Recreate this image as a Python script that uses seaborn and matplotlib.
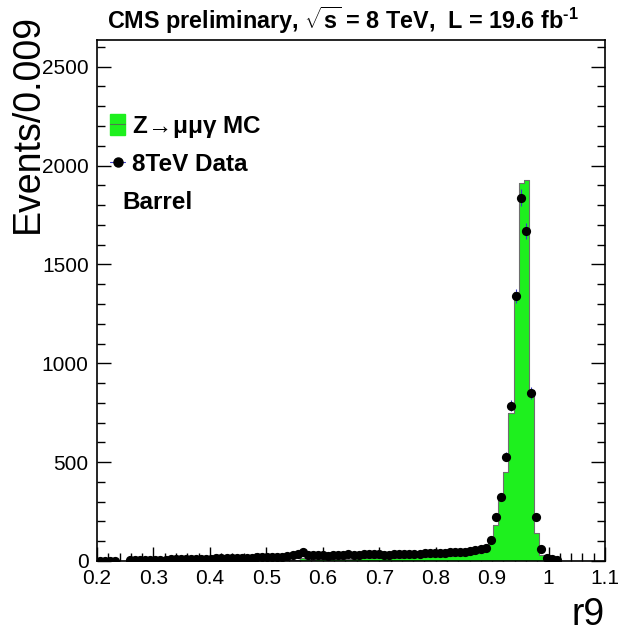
import numpy as np
import pandas as pd
import matplotlib.pyplot as plt
import seaborn as sns
from matplotlib.patches import Patch
from matplotlib.lines import Line2D
from matplotlib.ticker import FixedLocator, MultipleLocator

sns.set_style("ticks")
plt.rcParams['font.family'] = ['Liberation Sans', 'DejaVu Sans']
plt.rcParams['mathtext.fontset'] = 'custom'
plt.rcParams['mathtext.rm'] = 'Liberation Sans:bold'
plt.rcParams['mathtext.it'] = 'Liberation Sans:bold'
plt.rcParams['mathtext.bf'] = 'Liberation Sans:bold'
for key in ['text.color', 'axes.labelcolor', 'xtick.color', 'ytick.color']:
    plt.rcParams[key] = 'black'

# ── binning: 100 bins of 0.009 from 0.2 to 1.1 ──────────────────────────────
BIN_LO, BIN_W, N_BINS = 0.2, 0.009, 100

# ── 8 TeV data (events per bin) ──────────────────────────────────────────────
data_counts = [
    1, 2, 2, 2, 0, 0, 4, 4, 5, 5, 6,
    6, 7, 7, 8, 8, 9, 10, 10, 11, 11, 12,
    12, 13, 13, 14, 15, 15, 16, 17, 17, 18, 19,
    20, 20, 21, 22, 24, 30, 34, 48, 32, 29, 30,
    28, 27, 29, 30, 32, 34, 31, 30, 33, 35, 34,
    33, 30, 32, 34, 36, 33, 35, 37, 36, 38, 40,
    40, 42, 41, 44, 46, 45, 48, 50, 58, 62,
    67, 106, 221, 325, 528, 786, 1341, 1838, 1670, 849,
    224, 59, 15, 8, 5,
    0, 0, 0, 0, 0, 0, 0, 0, 0,
]

# ── Z -> mumugamma MC (events per bin) ───────────────────────────────────────
mc_counts = [
    0, 0, 0, 0, 0, 0, 0, 0, 0, 0, 0,
    0, 0, 0, 0, 0, 0, 0, 0, 0, 0, 0,
    0, 0, 0, 0, 1, 1, 1, 2, 2, 2, 2,
    3, 3, 4, 4, 5, 6, 7, 15, 8, 7, 8,
    9, 9, 10, 10, 11, 12, 12, 13, 13, 14, 14,
    15, 15, 16, 17, 17, 18, 19, 20, 21, 22, 23,
    24, 25, 26, 27, 29, 30, 32, 35, 38, 42,
    55, 90, 182, 309, 452, 750, 1360, 1910, 1925, 865,
    140, 30, 5, 0, 0,
    0, 0, 0, 0, 0, 0, 0, 0, 0,
]

x_ticks = [0.2, 0.3, 0.4, 0.5, 0.6, 0.7, 0.8, 0.9, 1.0, 1.1]
x_tick_labels = ['0.2', '0.3', '0.4', '0.5', '0.6', '0.7', '0.8', '0.9', '1', '1.1']

GREEN = '#1ef01e'
ERR_BLUE = '#3a3ac8'

edges = [BIN_LO + BIN_W * i for i in range(N_BINS + 1)]
centers = [BIN_LO + BIN_W * (i + 0.5) for i in range(N_BINS)]
df = pd.DataFrame({'r9': centers,
                   'mc': np.array(mc_counts, dtype=float),
                   'data': np.array(data_counts, dtype=float)})

fig = plt.figure(figsize=(6.19, 6.33), dpi=100)
ax = fig.add_axes([97 / 619, 1 - 561 / 633, 508 / 619, 521 / 633])

# MC histogram: filled step + outline
sns.histplot(data=df, x='r9', weights='mc', bins=edges, element='step',
             fill=True, color=GREEN, alpha=1, linewidth=0, ax=ax)
sns.histplot(data=df, x='r9', weights='mc', bins=edges, element='step',
             fill=False, color='#6e6e6e', linewidth=0.8, ax=ax)

# data points with sqrt(N) errors
pts = df[df['data'] > 0]
ax.errorbar(pts['r9'], pts['data'], yerr=np.sqrt(pts['data']), fmt='none',
            ecolor=ERR_BLUE, elinewidth=0.8, capsize=0, zorder=3)
sns.scatterplot(data=pts, x='r9', y='data', color='black', s=44,
                edgecolor='black', linewidth=0, ax=ax, zorder=4)

ax.set_xlim(0.2, 1.1)
ax.set_ylim(0, 2635)

ax.xaxis.set_major_locator(FixedLocator(x_ticks))
ax.set_xticklabels(x_tick_labels)
ax.xaxis.set_minor_locator(MultipleLocator(0.02))
ax.yaxis.set_major_locator(MultipleLocator(500))
ax.yaxis.set_minor_locator(MultipleLocator(100))
ax.tick_params(which='both', direction='in', right=True, top=False,
               width=1.0, color='black')
ax.tick_params(which='major', length=10, labelsize=15, pad=6)
ax.tick_params(which='minor', length=5.5)
for sp in ax.spines.values():
    sp.set_linewidth(1.2)
    sp.set_color('black')

ax.set_ylabel('Events/0.009', fontsize=27, loc='top')
ax.yaxis.set_label_coords(-0.1, 1.05)
ax.set_xlabel('r9', fontsize=27, loc='right')
ax.xaxis.set_label_coords(1.0, -0.07)

# legend
mc_handle = (Patch(facecolor=GREEN, edgecolor=GREEN),
             Line2D([0], [0], color='#4d7a4d', lw=0.8))
data_handle = Line2D([0], [0], color=ERR_BLUE, lw=0.8, marker='o',
                     markerfacecolor='black', markeredgecolor='black',
                     markersize=6.5)
ax.legend([mc_handle, data_handle],
          [r'Z$\!\rightarrow\!$μμγ MC', '8TeV Data'],
          loc='upper left', bbox_to_anchor=(0.025, 0.858), frameon=False,
          prop={'weight': 'bold', 'size': 17.5}, handlelength=0.65,
          handleheight=0.95, handletextpad=0.25, labelspacing=0.5,
          borderpad=0, borderaxespad=0)
ax.text(0.05, 0.689, 'Barrel', transform=ax.transAxes, fontsize=17.5,
        fontweight='bold', va='center', ha='left')

fig.text(107 / 619, 1 - 29 / 633,
         r'CMS preliminary, $\sqrt{s}$ = 8 TeV,  L = 19.6 fb$^{\text{-1}}$',
         ha='left', va='baseline', fontsize=16.8, fontweight='bold')

fig.savefig('out.png', dpi=100)
